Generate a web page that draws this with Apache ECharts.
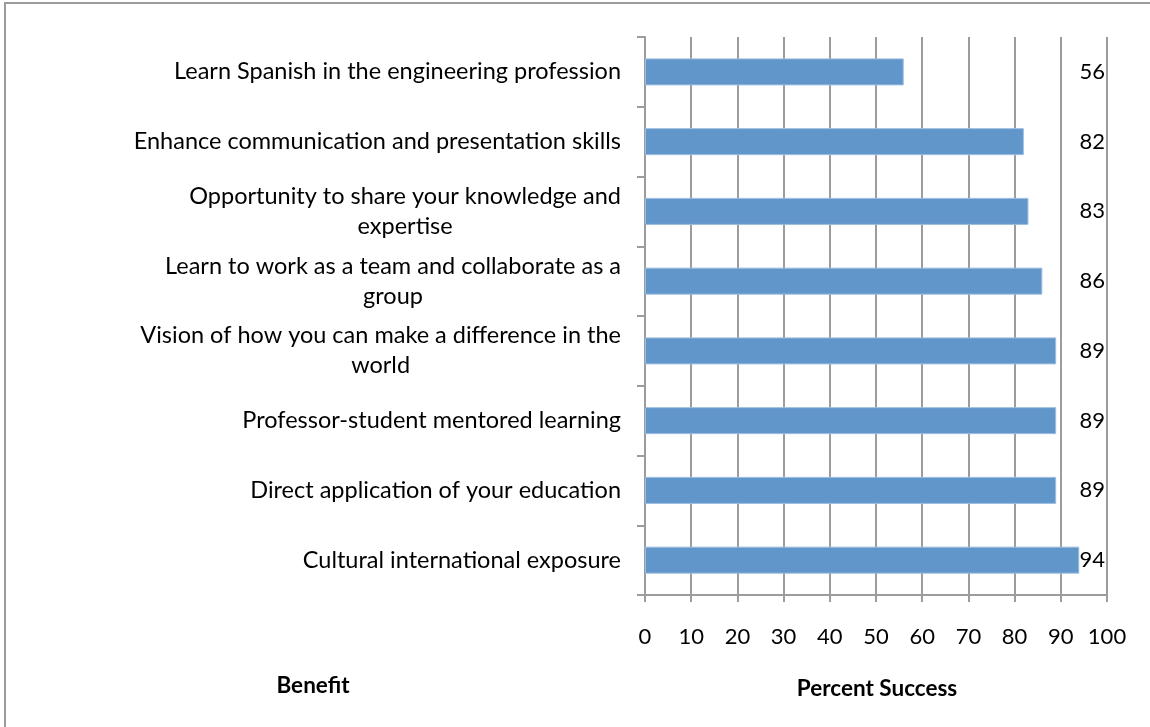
<!DOCTYPE html>
<html>
<head>
<meta charset="utf-8">
<title>Percent Success by Benefit</title>
<script src="https://cdn.jsdelivr.net/npm/echarts@6/dist/echarts.min.js"></script>
<style>
    html, body { margin: 0; padding: 0; background: #fff; }
    #chart1 { width: 1150px; height: 727px; }
</style>
</head>
<body>
<div id="chart1"></div>
<script>
// categories listed top to bottom as they appear in the chart
var benefits = [
    'Learn Spanish in the engineering profession',
    'Enhance communication and presentation skills',
    'Opportunity to share your knowledge and expertise',
    'Learn to work as a team and collaborate as a group',
    'Vision of how you can make a difference in the world',
    'Professor-student mentored learning',
    'Direct application of your education',
    'Cultural international exposure'
];
var successValues = [56, 82, 83, 86, 89, 89, 89, 94];
var xTicks = [0, 10, 20, 30, 40, 50, 60, 70, 80, 90, 100];

var FONT = 'Lato';
var GRAY = '#9c9c9c';
var CAT_SIZE = 23.5;

// wrap long category names like the original (lines centred, block right aligned)
var measureCtx = document.createElement('canvas').getContext('2d');
measureCtx.font = CAT_SIZE + 'px ' + FONT;
function wrapLabel(text, maxWidth) {
    var words = text.split(' ');
    var lines = [];
    var line = '';
    for (var i = 0; i < words.length; i++) {
        var test = line ? line + ' ' + words[i] : words[i];
        if (line && measureCtx.measureText(test).width > maxWidth) {
            lines.push(line);
            line = words[i];
        } else {
            line = test;
        }
    }
    lines.push(line);
    return lines.map(function (l) { return '{c|' + l + '}'; }).join('\n');
}

var chart1 = echarts.init(document.getElementById('chart1'));
var option = {
    backgroundColor: '#fff',
    animation: false,
    textStyle: { fontFamily: FONT },
    grid: { left: 645, right: 43, top: 37, bottom: 132, containLabel: false, outerBoundsMode: 'none' },
    graphic: [
        // outer frame
        { type: 'rect', shape: { x: 5, y: 3, width: 1200, height: 800 },
          style: { fill: 'none', stroke: GRAY, lineWidth: 2 }, silent: true },
        { type: 'text', x: 313, y: 686,
          style: { text: 'Benefit', align: 'center', verticalAlign: 'middle',
                   font: 'bold 22.5px ' + FONT, fill: '#000' } },
        { type: 'text', x: 877, y: 689,
          style: { text: 'Percent Success', align: 'center', verticalAlign: 'middle',
                   font: 'bold 22.5px ' + FONT, fill: '#000' } }
    ],
    xAxis: {
        type: 'value',
        min: xTicks[0],
        max: xTicks[xTicks.length - 1],
        interval: 10,
        axisLine: { show: true, lineStyle: { color: GRAY, width: 2 } },
        axisTick: { show: true, length: 7, lineStyle: { color: GRAY, width: 2 } },
        axisLabel: { margin: 31, fontSize: 22, color: '#000', fontFamily: FONT },
        splitLine: { show: true, lineStyle: { color: GRAY, width: 2 } }
    },
    yAxis: [{
        type: 'category',
        data: benefits,
        inverse: true,
        axisLine: { show: true, lineStyle: { color: GRAY, width: 2 } },
        axisTick: { show: true, length: 8, lineStyle: { color: GRAY, width: 2 } },
        axisLabel: {
            margin: 24,
            color: '#000',
            formatter: function (value) {
                return wrapLabel(value, 495);
            },
            rich: {
                c: { align: 'center', fontSize: CAT_SIZE, fontFamily: FONT, lineHeight: 30, color: '#000' }
            }
        },
        splitLine: { show: false }
    }, {
        type: 'category',
        position: 'right',
        data: successValues.map(String),
        inverse: true,
        axisLine: { show: false },
        axisTick: { show: false },
        axisLabel: { inside: true, margin: 2, fontSize: 22, color: '#000', fontFamily: FONT },
        splitLine: { show: false }
    }],
    series: [{
        name: 'Percent Success',
        type: 'bar',
        yAxisIndex: 0,
        data: successValues,
        barWidth: 27,
        itemStyle: {
            color: '#6096c9',
            borderColor: '#9dbde0',
            borderWidth: 1
        }
    }]
};
chart1.setOption(option);
</script>
</body>
</html>
